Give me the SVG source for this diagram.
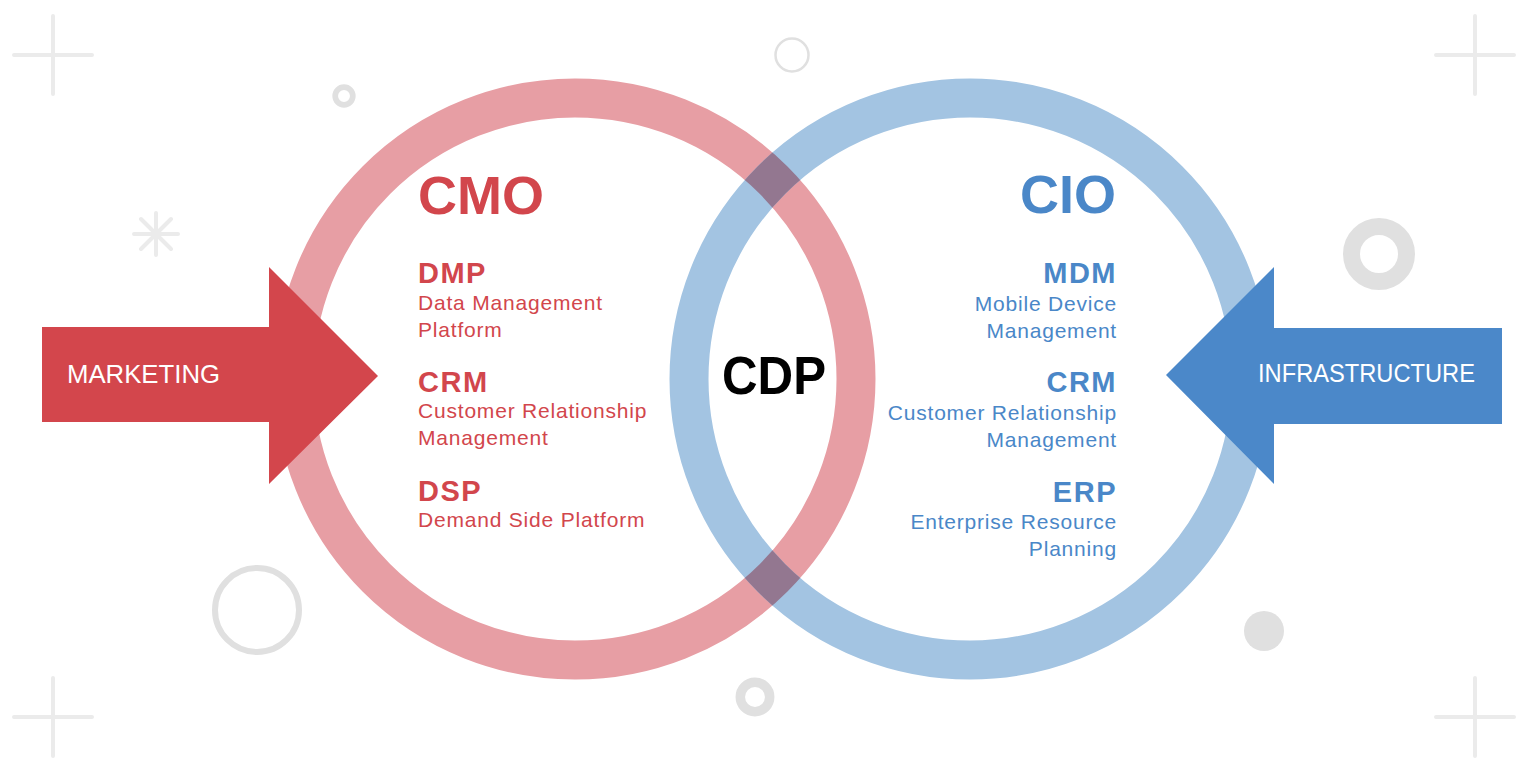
<svg xmlns="http://www.w3.org/2000/svg" width="1532" height="780" viewBox="0 0 1532 780">
<style>
.deco{fill:none;stroke:#ebebeb;stroke-width:4;stroke-linecap:round}
.dring{fill:none;stroke:#e0e0e0}
.hd{font-family:"Liberation Sans",Arial,sans-serif;font-weight:bold}
.sub{font-family:"Liberation Sans",Arial,sans-serif;font-size:21px;letter-spacing:0.8px}
.red{fill:#d2464c}
.blue{fill:#4a87c8}
.big{font-size:54px}
.mid{font-size:29px;letter-spacing:1.5px}
.lbl{font-family:"Liberation Sans",Arial,sans-serif;font-size:26px;fill:#ffffff}
</style>
<defs>
<mask id="blueRingMask" maskUnits="userSpaceOnUse" x="0" y="0" width="1532" height="780">
<circle cx="970" cy="379" r="281" fill="none" stroke="#ffffff" stroke-width="39"/>
</mask>
</defs>
<rect width="1532" height="780" fill="#ffffff"/>
<g id="decorations">
<path class="deco" d="M53 16V94M14 55H92"/>
<path class="deco" d="M1475 16V94M1436 55H1514"/>
<path class="deco" d="M53 678V756M14 717H92"/>
<path class="deco" d="M1475 678V756M1436 717H1514"/>
<path class="deco" d="M156 213V255M134 234H178M141 219L171 249M171 219L141 249"/>
<circle class="dring" cx="344" cy="96" r="8.8" stroke-width="5.7"/>
<circle class="dring" cx="792" cy="55" r="16.5" stroke-width="2.5"/>
<circle class="dring" cx="257" cy="610" r="42" stroke-width="6"/>
<circle class="dring" cx="755" cy="697" r="14.7" stroke-width="9.5"/>
<circle class="dring" cx="1379" cy="254" r="27.5" stroke-width="17"/>
<circle cx="1264" cy="631" r="20" fill="#e0e0e0"/>
</g>
<g id="node-cmo">
<circle cx="575" cy="379" r="281" fill="none" stroke="#e79ea4" stroke-width="39"/>
</g>
<g id="node-cio">
<circle cx="970" cy="379" r="281" fill="none" stroke="#a3c4e2" stroke-width="39"/>
</g>
<g id="node-cdp">
<circle cx="575" cy="379" r="281" fill="none" stroke="#937790" stroke-width="39" mask="url(#blueRingMask)"/>
<text class="hd" x="722" y="394" font-size="53" textLength="104" lengthAdjust="spacingAndGlyphs" fill="#000000">CDP</text>
</g>
<g id="cmo-text">
<text class="hd big red" x="418" y="214">CMO</text>
<text class="hd mid red" x="418" y="283">DMP</text>
<text class="sub red" x="418" y="310">Data Management</text>
<text class="sub red" x="418" y="337">Platform</text>
<text class="hd mid red" x="418" y="392">CRM</text>
<text class="sub red" x="418" y="418">Customer Relationship</text>
<text class="sub red" x="418" y="445">Management</text>
<text class="hd mid red" x="418" y="501">DSP</text>
<text class="sub red" x="418" y="527">Demand Side Platform</text>
</g>
<g id="cio-text" text-anchor="end">
<text class="hd big blue" x="1116" y="213">CIO</text>
<text class="hd mid blue" x="1117" y="283">MDM</text>
<text class="sub blue" x="1117" y="311">Mobile Device</text>
<text class="sub blue" x="1117" y="338">Management</text>
<text class="hd mid blue" x="1117" y="392">CRM</text>
<text class="sub blue" x="1117" y="420">Customer Relationship</text>
<text class="sub blue" x="1117" y="447">Management</text>
<text class="hd mid blue" x="1117" y="502">ERP</text>
<text class="sub blue" x="1117" y="529">Enterprise Resource</text>
<text class="sub blue" x="1117" y="556">Planning</text>
</g>
<g id="connectors">
<g id="arrow-marketing">
<polygon points="42,327 269,327 269,267 378,376 269,484 269,422 42,422" fill="#d3464c"/>
<text class="lbl" x="67" y="383" textLength="153" lengthAdjust="spacingAndGlyphs">MARKETING</text>
</g>
<g id="arrow-infrastructure">
<polygon points="1502,328 1274,328 1274,267 1166,375 1274,484 1274,424 1502,424" fill="#4b88c9"/>
<text class="lbl" x="1258" y="382" textLength="217" lengthAdjust="spacingAndGlyphs">INFRASTRUCTURE</text>
</g>
</g>
</svg>
